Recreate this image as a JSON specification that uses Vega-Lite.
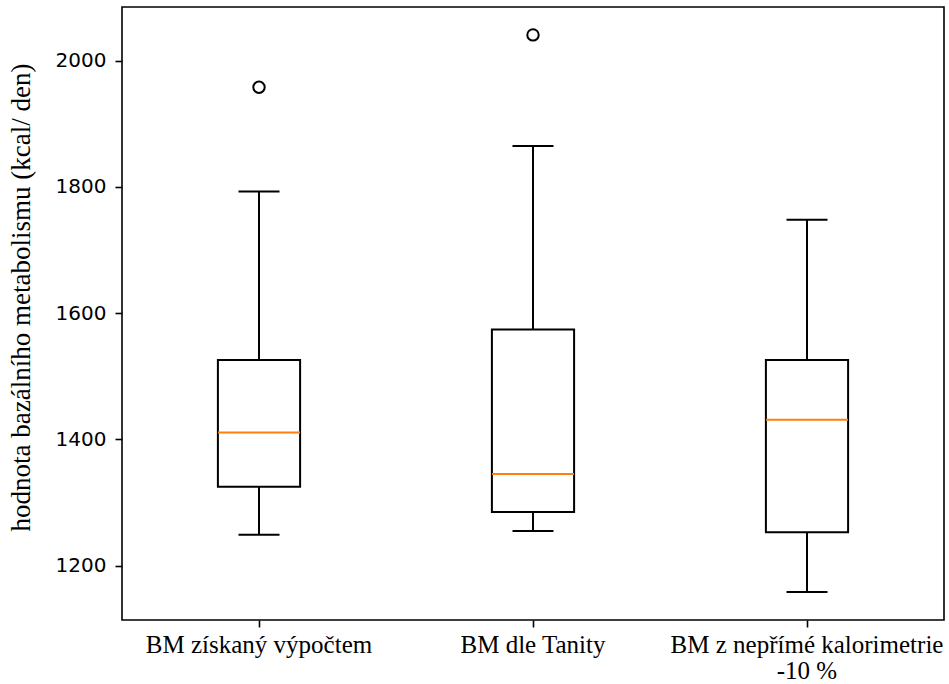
{
  "$schema": "https://vega.github.io/schema/vega-lite/v6.json",
  "width": 822,
  "height": 613,
  "autosize": {"type": "none"},
  "padding": {"left": 122, "top": 7, "right": 5, "bottom": 64},
  "background": "white",
  "config": {
    "view": {"stroke": "black", "strokeWidth": 1.6},
    "axis": {"grid": false, "domain": false, "tickColor": "black", "tickWidth": 1.6, "tickSize": 7, "labelColor": "black", "titleColor": "black"}
  },
  "datasets": {
    "boxes": [
      {"cat": "BM získaný výpočtem", "lower": 1249, "q1": 1325, "median": 1411, "q3": 1526, "upper": 1793},
      {"cat": "BM dle Tanity", "lower": 1255, "q1": 1285, "median": 1345, "q3": 1574, "upper": 1865},
      {"cat": "BM z nepřímé kalorimetrie|-10 %", "lower": 1158, "q1": 1253, "median": 1431, "q3": 1526, "upper": 1748}
    ],
    "outliers": [
      {"cat": "BM získaný výpočtem", "value": 1958},
      {"cat": "BM dle Tanity", "value": 2041}
    ]
  },
  "encoding": {
    "x": {
      "field": "cat", "type": "nominal",
      "sort": ["BM získaný výpočtem", "BM dle Tanity", "BM z nepřímé kalorimetrie|-10 %"],
      "scale": {"paddingInner": 0, "paddingOuter": 0},
      "axis": {"title": null, "labelAngle": 0, "labelFont": "Liberation Serif", "labelFontSize": 25, "labelPadding": 5, "labelExpr": "split(datum.label, '|')", "labelLineHeight": 26, "labelLimit": 400}
    }
  },
  "layer": [
    {
      "data": {"name": "boxes"},
      "mark": {"type": "rule", "stroke": "black", "strokeWidth": 2},
      "encoding": {
        "y": {"field": "q3", "type": "quantitative", "scale": {"domain": [1113.8, 2085.2], "nice": false, "zero": false},
          "axis": {"title": "hodnota bazálního metabolismu (kcal/ den)", "titleFont": "Liberation Serif", "titleFontSize": 27, "titleFontWeight": "normal", "titlePadding": 20, "titleY": 290, "labelFont": "DejaVu Sans", "labelFontSize": 20, "labelPadding": 9, "format": "d", "values": [1200, 1400, 1600, 1800, 2000]}},
        "y2": {"field": "upper"}
      }
    },
    {
      "data": {"name": "boxes"},
      "mark": {"type": "rule", "stroke": "black", "strokeWidth": 2},
      "encoding": {
        "y": {"field": "lower", "type": "quantitative"},
        "y2": {"field": "q1"}
      }
    },
    {
      "data": {"name": "boxes"},
      "mark": {"type": "bar", "width": {"band": 0.3}, "fill": "white", "stroke": "black", "strokeWidth": 2},
      "encoding": {
        "y": {"field": "q1", "type": "quantitative"},
        "y2": {"field": "q3"}
      }
    },
    {
      "data": {"name": "boxes"},
      "mark": {"type": "tick", "orient": "horizontal", "size": 41, "thickness": 2, "color": "black", "opacity": 1},
      "encoding": {"y": {"field": "upper", "type": "quantitative"}}
    },
    {
      "data": {"name": "boxes"},
      "mark": {"type": "tick", "orient": "horizontal", "size": 41, "thickness": 2, "color": "black", "opacity": 1},
      "encoding": {"y": {"field": "lower", "type": "quantitative"}}
    },
    {
      "data": {"name": "boxes"},
      "mark": {"type": "tick", "orient": "horizontal", "size": 82, "thickness": 2, "color": "#ff7f0e", "opacity": 1},
      "encoding": {"y": {"field": "median", "type": "quantitative"}}
    },
    {
      "data": {"name": "outliers"},
      "mark": {"type": "point", "shape": "circle", "filled": false, "stroke": "black", "strokeWidth": 2, "size": 130, "opacity": 1},
      "encoding": {"y": {"field": "value", "type": "quantitative"}}
    }
  ]
}
